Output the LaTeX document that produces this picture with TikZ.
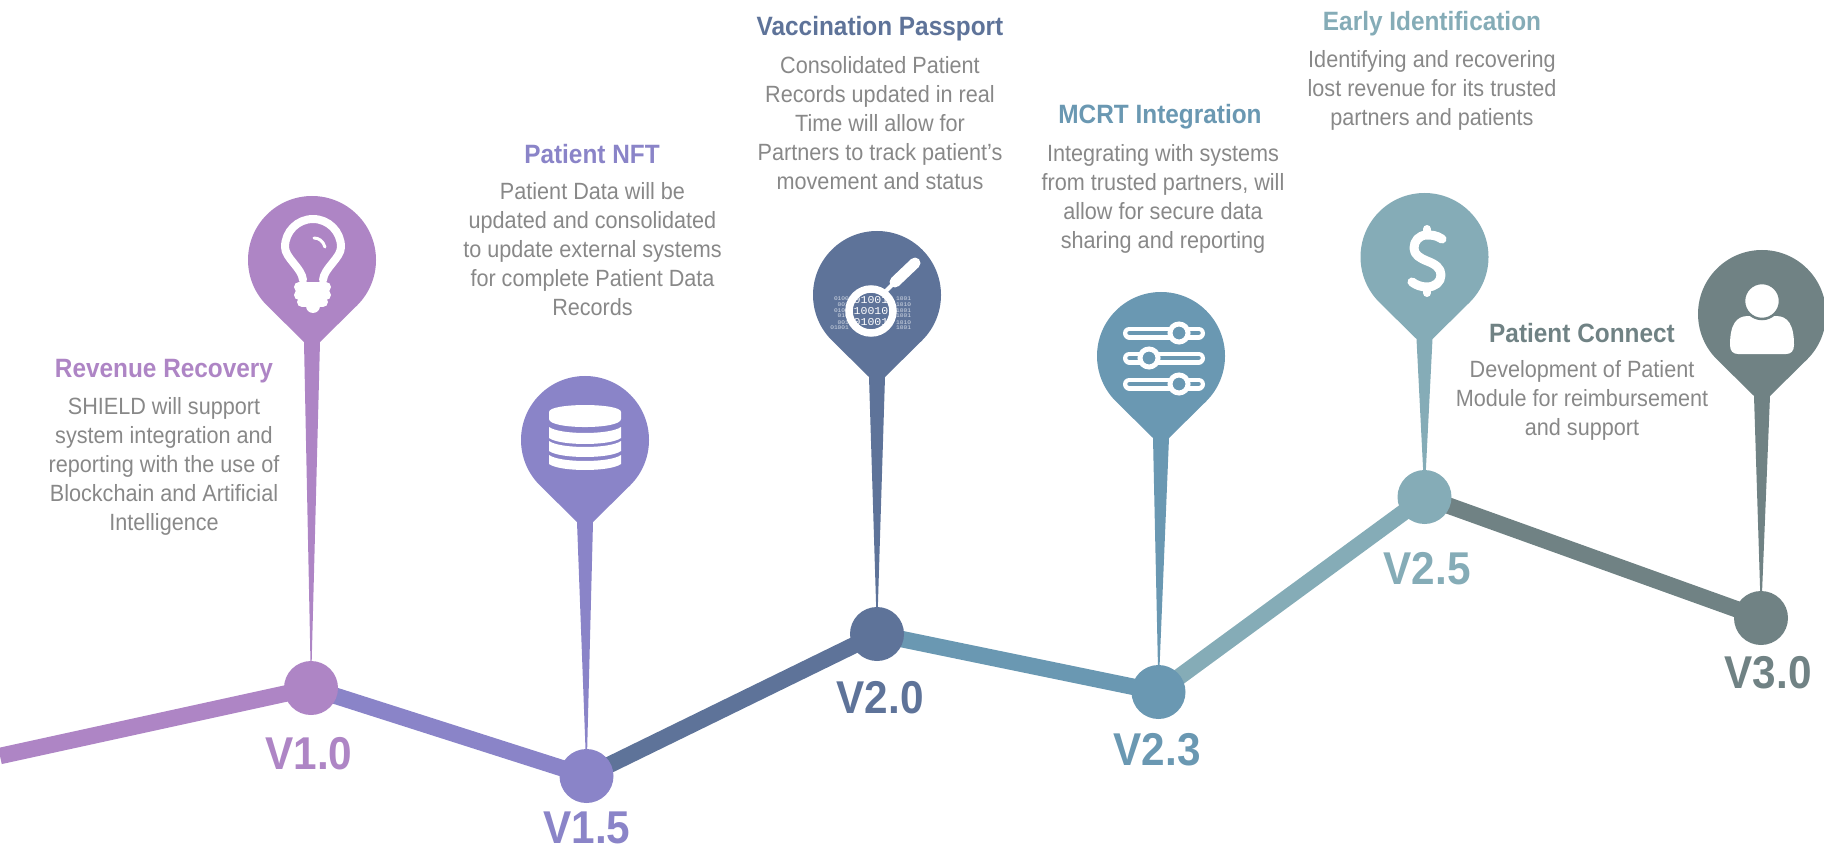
\documentclass[tikz,border=0pt]{standalone}
\usepackage{fontspec}
\setmainfont[FakeStretch=0.92]{Liberation Sans}
\newfontfamily\binfont[FakeStretch=1.1]{Liberation Mono}
\usetikzlibrary{backgrounds}
\definecolor{revcol}{HTML}{AE85C5}
\definecolor{nftcol}{HTML}{8A84C8}
\definecolor{vaccol}{HTML}{5E7399}
\definecolor{mcrtcol}{HTML}{6A98B2}
\definecolor{earlycol}{HTML}{85ACB7}
\definecolor{conncol}{HTML}{708284}
\definecolor{bodycol}{HTML}{888888}
\definecolor{bincol}{HTML}{D3DAE5}
\tikzset{
    verdot/.style={circle,inner sep=0,minimum size=54pt},
    verlabel/.style={anchor=base,inner sep=0,font=\fontsize{46}{46}\selectfont\bfseries},
    headtext/.style={anchor=base,inner sep=0,font=\fontsize{26.5}{30}\selectfont\bfseries},
    bodytext/.style={anchor=north,inner sep=0,align=center,text=bodycol,font=\fontsize{23.5}{29}\selectfont},
    segline/.style={line width=16.5pt},
    iconline/.style={white,line cap=round,line join=round},
    smallbin/.style={inner sep=0,text=bincol,font=\fontsize{5.6}{6}\binfont},
    bigbin/.style={inner sep=0,text=white,font=\fontsize{10.5}{12}\binfont}
}
\newcommand{\pinhead}[4]{
    \begin{pgfonlayer}{background}
        \fill[#4] (#3.center) -- (#1-8,#2+82) -- (#1-45.25,#2+45.25)
            arc[start angle=135,end angle=405,radius=64] -- (#1+8,#2+82) -- cycle;
    \end{pgfonlayer}
}
\begin{document}
\begin{tikzpicture}[x=1pt,y=-1pt]
    \useasboundingbox (0,0) rectangle (1824,848);

    \coordinate (start) at (0,756);
    \node[verdot,fill=revcol] (dotrev) at (311,688) {};
    \node[verdot,fill=nftcol] (dotnft) at (586.5,776) {};
    \node[verdot,fill=vaccol] (dotvac) at (877,634) {};
    \node[verdot,fill=mcrtcol] (dotmcrt) at (1158.5,692) {};
    \node[verdot,fill=earlycol] (dotearly) at (1424.5,497) {};
    \node[verdot,fill=conncol] (dotconn) at (1761,618) {};

    \begin{pgfonlayer}{background}
        \draw[segline,revcol] (start) -- (dotrev.center);
        \draw[segline,nftcol] (dotrev.center) -- (dotnft.center);
        \draw[segline,vaccol] (dotnft.center) -- (dotvac.center);
        \draw[segline,mcrtcol] (dotvac.center) -- (dotmcrt.center);
        \draw[segline,earlycol] (dotmcrt.center) -- (dotearly.center);
        \draw[segline,conncol] (dotearly.center) -- (dotconn.center);
    \end{pgfonlayer}

    \pinhead{312}{260}{dotrev}{revcol}
    \pinhead{585}{440}{dotnft}{nftcol}
    \pinhead{877}{295}{dotvac}{vaccol}
    \pinhead{1161}{356}{dotmcrt}{mcrtcol}
    \pinhead{1424.5}{257}{dotearly}{earlycol}
    \pinhead{1762}{314}{dotconn}{conncol}

    \node[verlabel,text=revcol] (verrev) at (309,769) {V1.0};
    \node[verlabel,text=nftcol] (vernft) at (587,843) {V1.5};
    \node[verlabel,text=vaccol] (vervac) at (880,713) {V2.0};
    \node[verlabel,text=mcrtcol] (vermcrt) at (1157,765) {V2.3};
    \node[verlabel,text=earlycol] (verearly) at (1427,584) {V2.5};
    \node[verlabel,text=conncol] (verconn) at (1768,688) {V3.0};

    \node[headtext,text=revcol] (headrev) at (164,377) {Revenue Recovery};
    \node[bodytext] (bodyrev) at (164,394) {\strut SHIELD will support\\system integration and\\reporting with the use of\\Blockchain and Artificial\\Intelligence};
    \node[headtext,text=nftcol] (headnft) at (592,164) {Patient NFT};
    \node[bodytext] (bodynft) at (592.5,179) {\strut Patient Data will be\\updated and consolidated\\to update external systems\\for complete Patient Data\\Records};
    \node[headtext,text=vaccol] (headvac) at (880,36) {Vaccination Passport};
    \node[bodytext] (bodyvac) at (880,53) {\strut Consolidated Patient\\Records updated in real\\Time will allow for\\Partners to track patient\symbol{39}s\\movement and status};
    \node[headtext,text=mcrtcol] (headmcrt) at (1160,124) {MCRT Integration};
    \node[bodytext] (bodymcrt) at (1163,141) {\strut Integrating with systems\\from trusted partners, will\\allow for secure data\\sharing and reporting};
    \node[headtext,text=earlycol] (headearly) at (1432,31) {Early Identification};
    \node[bodytext] (bodyearly) at (1432,47) {\strut Identifying and recovering\\lost revenue for its trusted\\partners and patients};
    \node[headtext,text=conncol] (headconn) at (1582,342) {Patient Connect};
    \node[bodytext] (bodyconn) at (1582,357) {\strut Development of Patient\\Module for reimbursement\\and support};

    \draw[iconline,line width=8pt] (303,280) .. controls (302,268) and (285,258) .. (285,247)
        arc[start angle=180,end angle=360,radius=28] .. controls (341,258) and (324,268) .. (323,280);
    \draw[iconline,line width=3pt] (314,238) .. controls (319,238) and (323,241) .. (325,247);
    \draw[iconline,line width=10pt] (299,287) -- (326,287);
    \draw[iconline,line width=10pt] (299,295) -- (326,295);
    \draw[iconline,line width=10pt] (302,302) -- (323,302);
    \fill[white] (313,306) circle (7);

    \fill[white] (549,412) .. controls (549,402.7) and (621,402.7) .. (621,412) -- (621,419)
        .. controls (621,429.7) and (549,429.7) .. (549,419) -- cycle;
    \foreach \a/\b in {427/438,441/451,455/464}
        \fill[white] (549,\a) .. controls (560,\a+8) and (610,\a+8) .. (621,\a) -- (621,\b)
            .. controls (610,\b+8) and (560,\b+8) .. (549,\b) -- cycle;

    \foreach \y/\tl/\tr in {299/0100/1001,305/001/1010,311/0100/1001,316/010/1001,323/001/1010,328/01001/1001} {
        \node[smallbin,anchor=east] (binl\y) at (849,\y) {\tl};
        \node[smallbin,anchor=west] (binr\y) at (896,\y) {\tr};
    }
    \node[bigbin] (binbiga) at (871,300) {01001};
    \node[bigbin] (binbigb) at (871,311) {10010};
    \node[bigbin] (binbigc) at (871,322) {01001};
    \draw[white,line width=7.5pt] (871,311) circle (22);
    \draw[iconline,line width=4pt] (884,293) -- (893,284);
    \draw[iconline,line width=11pt] (895,282) -- (915,263);

    \foreach \y/\k in {333/1179,358/1149,384/1179} {
        \draw[iconline,line width=13pt] (1129.5,\y) -- (1198.5,\y);
        \draw[line cap=round,mcrtcol,line width=4.5pt] (1129.5,\y) -- (1198.5,\y);
        \draw[white,fill=mcrtcol,line width=5pt] (\k,\y) circle (9);
    }

    \draw[iconline,line width=9pt] (1442,239) .. controls (1436,235) and (1431,235) .. (1427,235)
        .. controls (1419,235) and (1414,241) .. (1414,248) .. controls (1414,255) and (1420,258) .. (1427,261)
        .. controls (1435,264) and (1441,268) .. (1441,275) .. controls (1441,282) and (1435,287) .. (1427,287)
        .. controls (1421,287) and (1416,285) .. (1412,282);
    \draw[iconline,line width=8pt] (1427,229) -- (1427,235);
    \draw[iconline,line width=8pt] (1427,287) -- (1427,293);

    \fill[white] (1730,345) .. controls (1730,325) and (1736,316) .. (1748,316) -- (1776,316)
        .. controls (1788,316) and (1794,325) .. (1794,345) .. controls (1794,351) and (1791,354) .. (1786,354)
        -- (1738,354) .. controls (1733,354) and (1730,351) .. (1730,345) -- cycle;
    \draw[conncol,fill=white,line width=2.5pt] (1762,301) circle (18);
\end{tikzpicture}
\end{document}
